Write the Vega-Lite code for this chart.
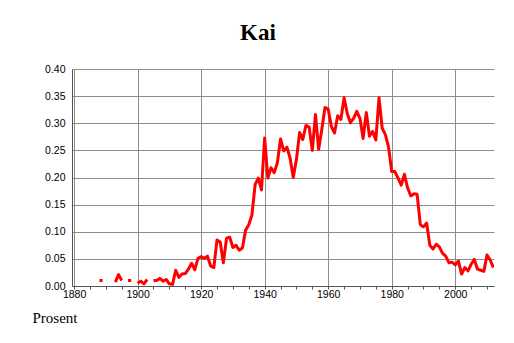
{
  "$schema": "https://vega.github.io/schema/vega-lite/v6.json",
  "width": 422,
  "height": 217,
  "autosize": {"type": "none"},
  "padding": {"left": 72, "top": 69, "right": 20, "bottom": 57},
  "background": "white",
  "title": {"text": "Kai", "font": "Liberation Serif", "fontSize": 23, "fontWeight": "bold", "color": "black", "anchor": "middle", "frame": "group", "dx": -25, "baseline": "alphabetic", "offset": 1},
  "data": {"values": [
    {"year": 1888, "pct": 0.010}, {"year": 1889, "pct": 0.010},
    {"year": 1890, "pct": null}, {"year": 1891, "pct": null}, {"year": 1892, "pct": null},
    {"year": 1893, "pct": 0.007}, {"year": 1894, "pct": 0.021}, {"year": 1895, "pct": 0.010},
    {"year": 1896, "pct": null},
    {"year": 1897, "pct": 0.010}, {"year": 1898, "pct": 0.010},
    {"year": 1899, "pct": null},
    {"year": 1900, "pct": 0.005}, {"year": 1901, "pct": 0.009}, {"year": 1902, "pct": 0.004}, {"year": 1903, "pct": 0.012},
    {"year": 1904, "pct": null},
    {"year": 1905, "pct": 0.010}, {"year": 1906, "pct": 0.010}, {"year": 1907, "pct": 0.014}, {"year": 1908, "pct": 0.009}, {"year": 1909, "pct": 0.012},
    {"year": 1910, "pct": 0.004}, {"year": 1911, "pct": 0.003}, {"year": 1912, "pct": 0.029}, {"year": 1913, "pct": 0.016}, {"year": 1914, "pct": 0.022},
    {"year": 1915, "pct": 0.023}, {"year": 1916, "pct": 0.031}, {"year": 1917, "pct": 0.042}, {"year": 1918, "pct": 0.030}, {"year": 1919, "pct": 0.051},
    {"year": 1920, "pct": 0.054}, {"year": 1921, "pct": 0.051}, {"year": 1922, "pct": 0.055}, {"year": 1923, "pct": 0.037}, {"year": 1924, "pct": 0.034},
    {"year": 1925, "pct": 0.085}, {"year": 1926, "pct": 0.081}, {"year": 1927, "pct": 0.043}, {"year": 1928, "pct": 0.088}, {"year": 1929, "pct": 0.090},
    {"year": 1930, "pct": 0.071}, {"year": 1931, "pct": 0.075}, {"year": 1932, "pct": 0.066}, {"year": 1933, "pct": 0.070}, {"year": 1934, "pct": 0.103},
    {"year": 1935, "pct": 0.113}, {"year": 1936, "pct": 0.131}, {"year": 1937, "pct": 0.187}, {"year": 1938, "pct": 0.199}, {"year": 1939, "pct": 0.177},
    {"year": 1940, "pct": 0.273}, {"year": 1941, "pct": 0.199}, {"year": 1942, "pct": 0.218}, {"year": 1943, "pct": 0.209}, {"year": 1944, "pct": 0.227},
    {"year": 1945, "pct": 0.271}, {"year": 1946, "pct": 0.249}, {"year": 1947, "pct": 0.256}, {"year": 1948, "pct": 0.236}, {"year": 1949, "pct": 0.200},
    {"year": 1950, "pct": 0.233}, {"year": 1951, "pct": 0.283}, {"year": 1952, "pct": 0.270}, {"year": 1953, "pct": 0.296}, {"year": 1954, "pct": 0.293},
    {"year": 1955, "pct": 0.250}, {"year": 1956, "pct": 0.316}, {"year": 1957, "pct": 0.252}, {"year": 1958, "pct": 0.289}, {"year": 1959, "pct": 0.329},
    {"year": 1960, "pct": 0.326}, {"year": 1961, "pct": 0.294}, {"year": 1962, "pct": 0.282}, {"year": 1963, "pct": 0.314}, {"year": 1964, "pct": 0.307},
    {"year": 1965, "pct": 0.347}, {"year": 1966, "pct": 0.318}, {"year": 1967, "pct": 0.301}, {"year": 1968, "pct": 0.309}, {"year": 1969, "pct": 0.322},
    {"year": 1970, "pct": 0.309}, {"year": 1971, "pct": 0.272}, {"year": 1972, "pct": 0.320}, {"year": 1973, "pct": 0.276}, {"year": 1974, "pct": 0.285},
    {"year": 1975, "pct": 0.269}, {"year": 1976, "pct": 0.347}, {"year": 1977, "pct": 0.291}, {"year": 1978, "pct": 0.279}, {"year": 1979, "pct": 0.256},
    {"year": 1980, "pct": 0.211}, {"year": 1981, "pct": 0.211}, {"year": 1982, "pct": 0.199}, {"year": 1983, "pct": 0.186}, {"year": 1984, "pct": 0.206},
    {"year": 1985, "pct": 0.181}, {"year": 1986, "pct": 0.166}, {"year": 1987, "pct": 0.170}, {"year": 1988, "pct": 0.169}, {"year": 1989, "pct": 0.113},
    {"year": 1990, "pct": 0.109}, {"year": 1991, "pct": 0.116}, {"year": 1992, "pct": 0.075}, {"year": 1993, "pct": 0.068}, {"year": 1994, "pct": 0.077},
    {"year": 1995, "pct": 0.072}, {"year": 1996, "pct": 0.060}, {"year": 1997, "pct": 0.055}, {"year": 1998, "pct": 0.043}, {"year": 1999, "pct": 0.044},
    {"year": 2000, "pct": 0.039}, {"year": 2001, "pct": 0.046}, {"year": 2002, "pct": 0.022}, {"year": 2003, "pct": 0.034}, {"year": 2004, "pct": 0.028},
    {"year": 2005, "pct": 0.040}, {"year": 2006, "pct": 0.049}, {"year": 2007, "pct": 0.031}, {"year": 2008, "pct": 0.029}, {"year": 2009, "pct": 0.027},
    {"year": 2010, "pct": 0.057}, {"year": 2011, "pct": 0.048}, {"year": 2012, "pct": 0.034}
  ]},
  "mark": {"type": "line", "color": "#ff0000", "strokeWidth": 3, "strokeCap": "butt", "strokeJoin": "round", "invalid": "break-paths-show-domains", "clip": true},
  "encoding": {
    "x": {
      "field": "year", "type": "quantitative",
      "scale": {"domain": [1879.35, 2012.2], "nice": false, "zero": false},
      "axis": {
        "values": [1880, 1885, 1890, 1895, 1900, 1905, 1910, 1915, 1920, 1925, 1930, 1935, 1940, 1945, 1950, 1955, 1960, 1965, 1970, 1975, 1980, 1985, 1990, 1995, 2000, 2005, 2010],
        "format": "d",
        "labelExpr": "datum.value % 20 === 0 ? datum.label : ''",
        "grid": true,
        "gridColor": "#8c8c8c",
        "gridOpacity": {"condition": {"test": "datum.value % 20 === 0", "value": 1}, "value": 0},
        "title": null,
        "domainColor": "#555555",
        "tickColor": "#555555",
        "tickSize": 3,
        "labelPadding": 0,
        "labelFont": "Liberation Sans",
        "labelFontSize": 10.5,
        "labelColor": "black",
        "labelFlush": false,
        "labelOverlap": false
      }
    },
    "y": {
      "field": "pct", "type": "quantitative",
      "scale": {"domain": [0, 0.4], "nice": false},
      "axis": {
        "values": [0, 0.05, 0.1, 0.15, 0.2, 0.25, 0.3, 0.35, 0.4],
        "format": ".2f",
        "grid": true,
        "gridColor": "#8c8c8c",
        "ticks": false,
        "labelPadding": 7,
        "labelFont": "Liberation Sans",
        "labelFontSize": 10.5,
        "labelColor": "black",
        "labelFlush": false,
        "labelOverlap": false,
        "domainColor": "#555555",
        "title": "Prosent",
        "titleAngle": 0,
        "titleX": -40,
        "titleY": 253,
        "titleAlign": "left",
        "titleBaseline": "alphabetic",
        "titleFont": "Liberation Serif",
        "titleFontSize": 15,
        "titleFontWeight": "normal",
        "titleColor": "black"
      }
    }
  },
  "config": {"view": {"stroke": null}}
}
